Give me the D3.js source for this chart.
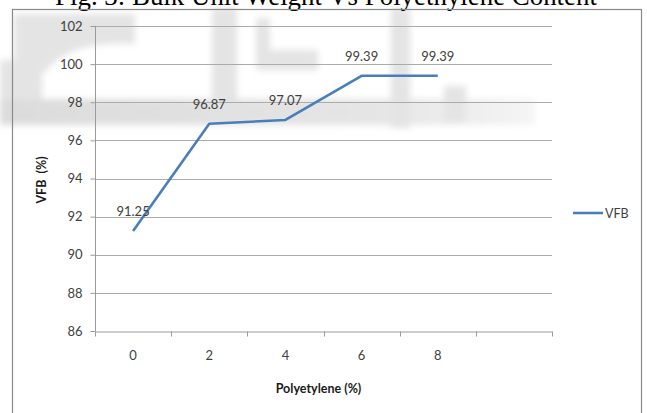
<!DOCTYPE html>
<html>
<head>
<meta charset="utf-8">
<script src="https://cdn.jsdelivr.net/npm/d3@7"></script>
<style>
  html, body { margin: 0; padding: 0; background: #fff; }
  svg { display: block; }
</style>
</head>
<body>
<svg id="chart" width="647" height="413"></svg>
<script>
// ---- data ----
const titleText = "Fig. 3: Bulk Unit Weight Vs Polyethylene Content";
const categories = ["0", "2", "4", "6", "8", ""];
const vfbValues = [91.25, 96.87, 97.07, 99.39, 99.39, null];
const yTicks = [86, 88, 90, 92, 94, 96, 98, 100, 102];
const seriesName = "VFB";
const xTitle = "Polyetylene (%)";
const yTitle = "VFB  (%)";

const svg = d3.select("#chart");
const lineColor = "#4a7ebb";
const labelFont = "Lato, 'Open Sans', sans-serif";

// ---- faint watermark behind chart ----
const defs = svg.append("defs");
defs.append("filter").attr("id", "blur").append("feGaussianBlur").attr("stdDeviation", 3);
const grad = defs.append("linearGradient").attr("id", "bandGrad");
grad.append("stop").attr("offset", "0%").attr("stop-color", "#dcdcdc");
grad.append("stop").attr("offset", "70%").attr("stop-color", "#e5e5e5");
grad.append("stop").attr("offset", "100%").attr("stop-color", "#f5f5f5");
const wm = svg.append("g").attr("filter", "url(#blur)").attr("fill", "#e4e4e4");
wm.append("path").attr("d", "M14,14 L135,14 L135,44 Q70,40 45,72 L14,72 Z");
wm.append("rect").attr("x", 0).attr("y", 60).attr("width", 42).attr("height", 65);
wm.append("rect").attr("x", 0).attr("y", 99).attr("width", 535).attr("height", 26).attr("fill", "url(#bandGrad)");
wm.append("rect").attr("x", 212).attr("y", 8).attr("width", 25).attr("height", 92);
wm.append("rect").attr("x", 256).attr("y", 18).attr("width", 14).attr("height", 50);
wm.append("rect").attr("x", 256).attr("y", 50).attr("width", 62).attr("height", 20);
wm.append("rect").attr("x", 391).attr("y", 8).attr("width", 19).attr("height", 120);
wm.append("rect").attr("x", 444).attr("y", 86).attr("width", 22).attr("height", 36);

// ---- title (top partially cut off, as in the reference) ----
const title = svg.append("text")
  .attr("x", 326).attr("y", 5)
  .attr("text-anchor", "middle")
  .attr("font-family", "'Liberation Serif', 'Times New Roman', serif")
  .attr("font-size", 24)
  .attr("fill", "#000")
  .text(titleText);
const tl = title.node().getComputedTextLength();
title.attr("font-size", 24 * 542 / tl);

// ---- chart frame ----
svg.append("rect")
  .attr("x", 12.5).attr("y", 9.5)
  .attr("width", 629).attr("height", 420)
  .attr("fill", "none").attr("stroke", "#8a8a8a").attr("stroke-width", 1.2);

// ---- scales ----
const plot = { left: 95, right: 552, top: 26, bottom: 331 };
const x = d3.scaleBand().domain(categories).range([plot.left, plot.right]).padding(0);
const y = d3.scaleLinear().domain([86, 102]).range([plot.bottom, plot.top]);

// gridlines
svg.append("g")
  .selectAll("line").data(yTicks.filter(d => d !== 86)).join("line")
  .attr("x1", plot.left).attr("x2", plot.right)
  .attr("y1", d => Math.round(y(d)) + 0.5).attr("y2", d => Math.round(y(d)) + 0.5)
  .attr("stroke", "#ababab").attr("stroke-width", 1.2);

// y axis
const yAxis = svg.append("g")
  .attr("transform", `translate(${plot.left + 0.5},0)`)
  .call(d3.axisLeft(y).tickValues(yTicks).tickSize(5).tickPadding(8));
yAxis.select(".domain").attr("stroke", "#9a9a9a").attr("d", `M0,${plot.top}V${plot.bottom}`);
yAxis.selectAll(".tick line").attr("stroke", "#9a9a9a");
yAxis.selectAll(".tick text")
  .attr("font-family", labelFont).attr("font-size", 13).attr("fill", "#404040");

// x axis
const xAxis = svg.append("g")
  .attr("transform", `translate(0,${Math.round(plot.bottom) + 0.5})`)
  .call(d3.axisBottom(x).tickSize(0).tickPadding(19));
xAxis.select(".domain").attr("stroke", "#9a9a9a");
xAxis.selectAll(".tick text")
  .attr("font-family", labelFont).attr("font-size", 13).attr("fill", "#404040");
// category boundary ticks
const bounds = categories.map(c => x(c)).concat([plot.right]);
xAxis.append("g").selectAll("line").data(bounds).join("line")
  .attr("x1", d => Math.round(d) + 0.5).attr("x2", d => Math.round(d) + 0.5)
  .attr("y1", 0).attr("y2", 5)
  .attr("stroke", "#9a9a9a");

// axis titles
svg.append("text")
  .attr("x", plot.left + (plot.right - plot.left) / 2 - 5).attr("y", 393)
  .attr("text-anchor", "middle")
  .attr("font-family", labelFont).attr("font-weight", "bold").attr("font-size", 12.5)
  .attr("fill", "#1a1a1a")
  .text(xTitle);
svg.append("text")
  .attr("transform", "translate(46,180) rotate(-90)")
  .attr("text-anchor", "middle")
  .attr("font-family", labelFont).attr("font-weight", "bold").attr("font-size", 12.5)
  .attr("fill", "#1a1a1a")
  .style("white-space", "pre")
  .text(yTitle);

// ---- series line ----
const pts = categories.map((c, i) => ({ c, v: vfbValues[i] })).filter(d => d.v !== null);
const line = d3.line().x(d => x(d.c) + x.bandwidth() / 2).y(d => y(d.v));
svg.append("path")
  .datum(pts)
  .attr("d", line)
  .attr("fill", "none")
  .attr("stroke", lineColor)
  .attr("stroke-width", 2.6)
  .attr("stroke-linejoin", "round");

// data labels
svg.append("g").selectAll("text").data(pts).join("text")
  .attr("x", d => x(d.c) + x.bandwidth() / 2)
  .attr("y", d => y(d.v) - 15)
  .attr("text-anchor", "middle")
  .attr("font-family", labelFont).attr("font-size", 13).attr("fill", "#404040")
  .text(d => d.v.toFixed(2));

// ---- legend ----
const lg = svg.append("g").attr("transform", "translate(573,213)");
lg.append("line").attr("x1", 0).attr("x2", 30).attr("y1", 0).attr("y2", 0)
  .attr("stroke", lineColor).attr("stroke-width", 2.6);
lg.append("text").attr("x", 32).attr("y", 4.5)
  .attr("font-family", labelFont).attr("font-size", 12.5).attr("fill", "#404040")
  .text(seriesName);
</script>
</body>
</html>
